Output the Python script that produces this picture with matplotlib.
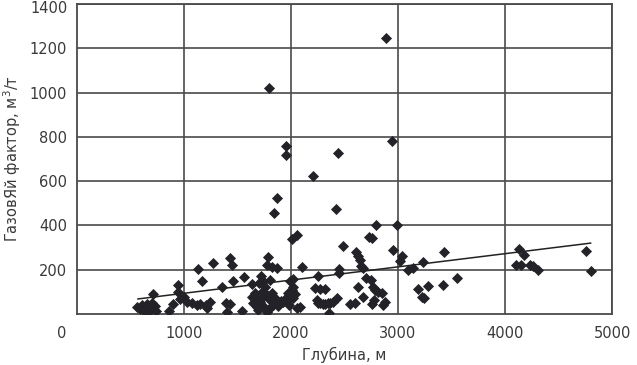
import numpy as np
import matplotlib
matplotlib.use('Agg')
import matplotlib.pyplot as plt
from matplotlib.transforms import ScaledTranslation

# depth (m) and gas factor (m3/t)
depth = [560, 590, 605, 620, 650, 667, 683, 700, 710, 730, 735, 863, 900, 948, 948,
         963, 1000, 1031, 1072, 1119, 1134, 1150, 1165, 1203, 1212, 1243, 1275, 1358,
         1393, 1399, 1430, 1430, 1452, 1455, 1540, 1561, 1633, 1633, 1649, 1660, 1680,
         1690, 1696, 1700, 1710, 1720, 1725, 1742, 1742, 1748, 1760, 1773, 1773, 1780,
         1788, 1790, 1804, 1804, 1815, 1820, 1820, 1835, 1845, 1851, 1866, 1867, 1880,
         1897, 1910, 1929, 1954, 1954, 1960, 1960, 1976, 1980, 1991, 1995, 2006, 2007,
         2016, 2022, 2023, 2040, 2054, 2060, 2085, 2107, 2210, 2226, 2241, 2250, 2257,
         2271, 2271, 2303, 2318, 2318, 2350, 2358, 2364, 2397, 2422, 2427, 2437, 2451,
         2451, 2483, 2550, 2600, 2608, 2630, 2630, 2645, 2655, 2676, 2676, 2701, 2733,
         2745, 2754, 2754, 2763, 2776, 2785, 2796, 2817, 2847, 2864, 2880, 2890, 2948,
         2950, 2990, 3020, 3035, 3097, 3144, 3191, 3222, 3238, 3243, 3285, 3425, 3434,
         3549, 4100, 4133, 4150, 4173, 4234, 4265, 4306, 4757, 4804]
gas_factor = [33, 23, 41, 18, 45, 6, 26, 49, 91, 36, 15, 15, 45, 132, 101,
              67, 79, 56, 49, 41, 205, 45, 151, 41, 26, 56, 232, 124,
              51, 10, 45, 255, 222, 147, 15, 167, 136, 79, 49, 95, 33,
              70, 18, 140, 56, 173, 100, 147, 79, 33, 120, 10, 223, 85,
              258, 1020, 155, 64, 30, 212, 94, 41, 455, 71, 207, 523, 35,
              49, 60, 56, 760, 718, 79, 64, 94, 40, 94, 150, 109, 340,
              158, 71, 124, 90, 355, 26, 31, 211, 624, 117, 64, 170, 49,
              49, 112, 45, 45, 112, 49, 3, 49, 56, 476, 71, 727, 203,
              185, 309, 45, 51, 279, 261, 124, 245, 218, 207, 79, 162, 349,
              155, 344, 45, 124, 64, 109, 400, 101, 94, 41, 56, 1245, 782,
              291, 400, 238, 264, 200, 207, 112, 79, 235, 71, 127, 132, 280,
              162, 223, 294, 223, 268, 223, 215, 197, 283, 192]

# linear trend drawn in the reference
trend_slope = 0.0596
trend_intercept = 34
trend_range = [570, 4800]

x_ticks = [1000, 2000, 3000, 4000, 5000]
y_ticks = [200, 400, 600, 800, 1000, 1200, 1400]

grid_col = '#4a4a4a'
text_col = '#3a3a3a'

fig = plt.figure(figsize=(6.37, 3.65), dpi=100)
ax = fig.add_axes([77 / 637, 1 - 314 / 365, (612 - 77) / 637, (314 - 4) / 365])

ax.scatter(depth, gas_factor, marker='D', s=32, color='#222228', linewidths=0, zorder=3)

tx = np.array(trend_range)
ax.plot(tx, trend_slope * tx + trend_intercept, color='#222222', lw=1.1, zorder=4)

ax.set_xlim(0, 5000)
ax.set_ylim(0, 1400)
ax.set_xticks(x_ticks)
ax.set_yticks(y_ticks)
ax.tick_params(length=0, labelsize=10.5, labelcolor=text_col)
ax.tick_params(axis='x', pad=9)
ax.tick_params(axis='y', pad=7)
ax.grid(True, color=grid_col, lw=1.2)
ax.set_axisbelow(True)
for sp in ax.spines.values():
    sp.set_color(grid_col)
    sp.set_linewidth(1.3)

# keep the top label inside the picture
fig.canvas.draw()
top_lab = ax.get_yticklabels()[-1]
top_lab.set_transform(top_lab.get_transform() + ScaledTranslation(0, -2 / 72, fig.dpi_scale_trans))

# shared zero label in the corner
ax.annotate('0', xy=(0, 0), xytext=(-11, -9), textcoords='offset points',
            ha='center', va='top', fontsize=10.5, color=text_col)

ax.set_xlabel('Глубина, м', fontsize=10.5, color=text_col, labelpad=4)
ax.set_ylabel('ГазовЯй фактор, м$^3$/т', fontsize=10.5, color=text_col, labelpad=5)

fig.savefig('out.png', dpi=100)
